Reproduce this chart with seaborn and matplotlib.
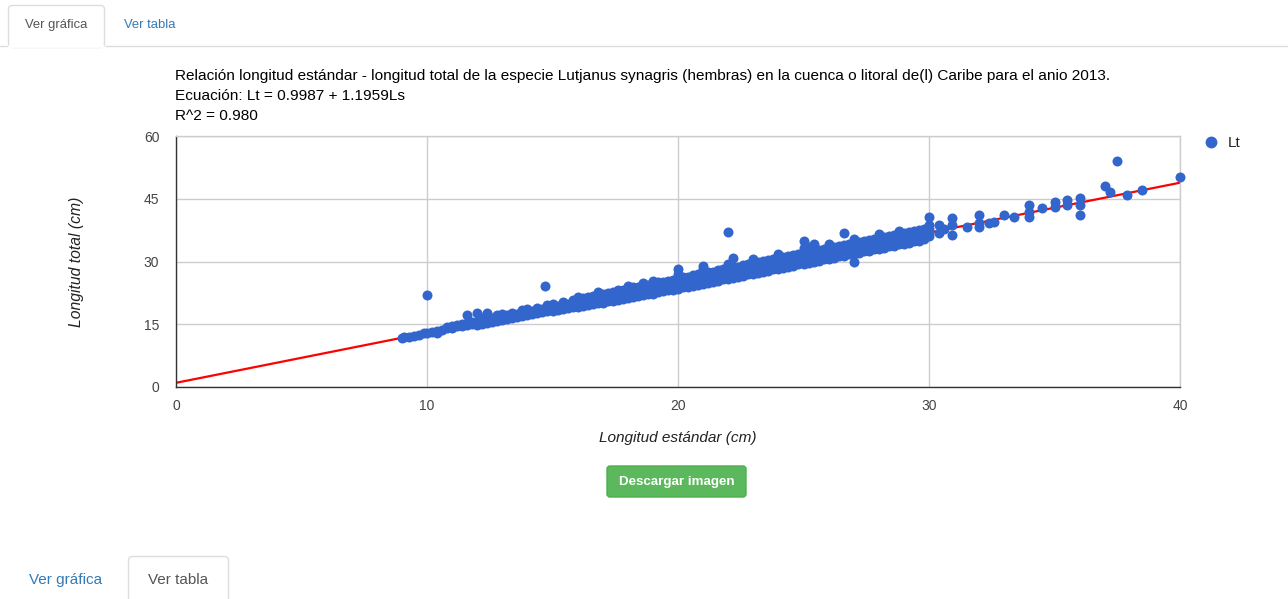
import matplotlib
matplotlib.use("Agg")
import matplotlib.pyplot as plt
from matplotlib.patches import FancyBboxPatch
from matplotlib.lines import Line2D
import pandas as pd
import seaborn as sns

# Standard length (cm) of each measured group and the total lengths (cm) found there
ls_cm = [
    9.0, 9.1, 9.3, 9.5, 9.7, 9.9, 10.0, 10.2, 10.4, 10.6, 10.8, 11.0, 11.2, 11.4,
    11.6, 11.8, 12.0, 12.2, 12.4, 12.6, 12.8, 13.0, 13.2, 13.4, 13.6, 13.8, 14.0,
    14.2, 14.4, 14.6, 14.7, 14.8, 15.0, 15.2, 15.4, 15.6, 15.8, 16.0, 16.2, 16.4,
    16.6, 16.8, 17.0, 17.2, 17.4, 17.6, 17.8, 18.0, 18.2, 18.4, 18.6, 18.8, 19.0,
    19.2, 19.4, 19.6, 19.8, 20.0, 20.2, 20.4, 20.6, 20.8, 21.0, 21.2, 21.4, 21.6,
    21.8, 22.0, 22.2, 22.4, 22.6, 22.8, 23.0, 23.2, 23.4, 23.6, 23.8, 24.0, 24.2,
    24.4, 24.6, 24.8, 25.0, 25.2, 25.4, 25.6, 25.8, 26.0, 26.2, 26.4, 26.6, 26.8,
    27.0, 27.2, 27.4, 27.6, 27.8, 28.0, 28.2, 28.4, 28.6, 28.8, 29.0, 29.2, 29.4,
    29.6, 29.8, 30.0, 30.4, 30.6, 30.9, 31.5, 32.0, 32.4, 32.6, 33.0, 33.4, 34.0,
    34.5, 35.0, 35.5, 36.0, 37.0, 37.2, 37.5, 37.9, 38.5, 40.0,
]
lt_cm = [
    [11.7], [11.9], [12.0], [12.3], [12.5], [12.8], [13.0, 22.0], [13.1],
    [13.0, 13.5], [13.7], [14.0, 14.4], [14.1, 14.6], [14.5, 14.9], [14.6, 15.1],
    [14.9, 15.4, 17.2], [15.0, 15.6], [14.9, 15.6, 17.8], [15.1, 15.9, 16.4],
    [15.4, 16.1, 17.6], [15.6, 16.4], [15.8, 16.6, 17.2], [16.0, 16.8, 17.5],
    [16.3, 17.1], [16.5, 17.3, 17.8], [16.7, 17.5], [17.0, 17.8, 18.3],
    [17.1, 18.0, 18.7], [17.4, 18.2], [17.6, 18.5, 19.0], [17.9, 18.7], [24.2],
    [18.1, 18.9, 19.5], [18.2, 19.1, 19.9], [18.5, 19.4], [18.7, 19.6, 20.2],
    [18.9, 19.9], [19.2, 20.1, 20.7], [19.1, 20.1, 21.0, 21.6], [19.4, 20.4, 21.2],
    [19.5, 20.6, 21.5], [19.8, 20.8, 21.7], [20.0, 21.1, 22.1, 22.6],
    [20.1, 21.3, 22.3], [20.5, 21.6, 22.5], [20.6, 21.8, 22.8], [20.9, 22.0, 23.1],
    [21.1, 22.3, 23.3], [21.2, 22.5, 23.5, 24.1], [21.6, 22.8, 23.8],
    [21.8, 23.0, 24.0], [22.0, 23.2, 24.3, 24.8], [22.2, 23.5, 24.5],
    [22.3, 23.7, 24.7, 25.4], [22.7, 24.0, 25.0], [22.9, 24.2, 25.2],
    [23.1, 24.4, 25.4], [23.3, 24.7, 25.6], [23.5, 24.9, 26.0, 27.0, 28.1],
    [23.8, 25.2, 26.2], [24.0, 25.4, 26.4], [24.2, 25.6, 26.7], [24.5, 25.9, 27.0],
    [24.6, 26.1, 27.2, 28.2, 29.0], [24.9, 26.4, 27.4], [25.2, 26.6, 27.6],
    [25.4, 26.8, 27.9], [25.7, 27.1, 28.1], [25.8, 27.3, 28.4, 29.3, 37.1],
    [26.1, 27.5, 28.6, 30.9], [26.4, 27.8, 28.8], [26.6, 28.0, 29.1],
    [26.9, 28.3, 29.3], [27.0, 28.5, 29.6, 30.5], [27.3, 28.7, 29.8],
    [27.6, 29.0, 30.1], [27.8, 29.2, 30.3], [28.1, 29.5, 30.5],
    [28.2, 29.7, 30.8, 31.8], [28.5, 29.9, 31.0], [28.8, 30.2, 31.3],
    [29.0, 30.4, 31.5], [29.3, 30.7, 31.7], [29.3, 30.9, 32.0, 33.2, 34.9],
    [29.7, 31.1, 32.2, 33.5], [30.0, 31.4, 32.5, 34.1], [30.2, 31.6, 32.7],
    [30.5, 31.9, 32.9], [30.5, 32.1, 33.2, 34.3], [30.9, 32.3, 33.4],
    [31.2, 32.6, 33.6], [31.4, 32.8, 33.9, 36.7], [31.7, 33.1, 34.1],
    [30.0, 31.8, 33.3, 34.4, 35.3], [32.1, 33.5, 34.6], [32.4, 33.8, 34.8],
    [32.6, 34.0, 35.1], [32.9, 34.2, 35.3], [33.0, 34.5, 35.6, 36.6],
    [33.3, 34.7, 35.8], [33.6, 35.0, 36.0], [33.8, 35.2, 36.3],
    [34.1, 35.4, 36.5, 37.3], [34.2, 35.7, 36.8], [34.5, 35.9, 37.0],
    [34.8, 36.2, 37.2], [35.0, 36.4, 37.5], [35.3, 36.6, 37.7],
    [36.1, 36.7, 37.7, 38.7, 40.7], [36.7, 38.7], [37.8], [36.3, 38.8, 40.4],
    [38.3], [38.3, 39.1, 41.1], [39.2], [39.5], [41.1], [40.6],
    [40.7, 41.9, 43.5], [42.8], [43.1, 44.3], [43.5, 44.7], [41.1, 43.5, 45.2],
    [48.0], [46.7], [54.0], [45.9], [47.1], [50.2],
]

# Fitted relation Lt = a + b * Ls
intercept = 0.9987
slope = 1.1959
r_squared = 0.980

x_ticks = [0, 10, 20, 30, 40]
y_ticks = [0, 15, 30, 45, 60]

title_lines = [
    "Relación longitud estándar - longitud total de la especie Lutjanus synagris "
    "(hembras) en la cuenca o litoral de(l) Caribe para el anio 2013.",
    f"Ecuación: Lt = {intercept:.4f} + {slope:.4f}Ls",
    f"R^2 = {r_squared:.3f}",
]

rows = [(x, y) for x, ys in zip(ls_cm, lt_cm) for y in ys]
df = pd.DataFrame(rows, columns=["Ls", "Lt"])
trend = pd.DataFrame({"Ls": [x_ticks[0], x_ticks[-1]]})
trend["Lt"] = intercept + slope * trend["Ls"]

sns.set_theme(style="white")
plt.rcParams["font.family"] = ["Liberation Sans", "DejaVu Sans"]

W, H = 1288, 599
fig = plt.figure(figsize=(W / 100, H / 100), dpi=100)
fig.patch.set_facecolor("white")

# page overlay in pixel coordinates
page = fig.add_axes([0, 0, 1, 1], zorder=0)
page.set_xlim(0, W)
page.set_ylim(H, 0)
page.axis("off")

BLUE_LINK = "#337ab7"
TAB_LINE = "#dddddd"

# top tab bar
page.plot([0, 8], [45.5, 45.5], color=TAB_LINE, lw=1)
page.plot([104, W], [45.5, 45.5], color=TAB_LINE, lw=1)
page.add_patch(FancyBboxPatch((8.5, 5.5), 96, 42, boxstyle="round,pad=0,rounding_size=4",
                              fc="white", ec=TAB_LINE, lw=1))
page.plot([9.5, 103.5], [46, 46], color="white", lw=2)
page.text(56, 25, "Ver gráfica", ha="center", va="center", fontsize=9.4, color="#555555")
page.text(150, 25, "Ver tabla", ha="center", va="center", fontsize=9.4, color=BLUE_LINK)

# bottom tab bar
page.add_patch(FancyBboxPatch((128.5, 556.5), 100, 60, boxstyle="round,pad=0,rounding_size=4",
                              fc="white", ec=TAB_LINE, lw=1))
page.text(66, 580, "Ver gráfica", ha="center", va="center", fontsize=11.0, color=BLUE_LINK)
page.text(178, 580, "Ver tabla", ha="center", va="center", fontsize=11.0, color="#555555")

# download button
page.add_patch(FancyBboxPatch((607, 466), 139, 31, boxstyle="round,pad=0,rounding_size=3",
                              fc="#5cb85c", ec="#4cae4c", lw=1))
page.text(676.5, 482, "Descargar imagen", ha="center", va="center", fontsize=9.6,
          color="white", fontweight="bold")

# chart title block
for i, line in enumerate(title_lines):
    page.text(175, 76 + 20 * i, line, ha="left", va="center", fontsize=11.1, color="#000000")

# plot area
left, right, top, bottom = 176, 1180, 136, 387
ax = fig.add_axes([left / W, 1 - bottom / H, (right - left) / W, (bottom - top) / H], zorder=2)
ax.set_facecolor("none")

sns.lineplot(data=trend, x="Ls", y="Lt", color="#ff0000", lw=1.6, ax=ax, zorder=2)
sns.scatterplot(data=df, x="Ls", y="Lt", color="#3366cc", s=52, linewidth=0,
                ax=ax, zorder=3, clip_on=False)

ax.set_xlim(x_ticks[0], x_ticks[-1])
ax.set_ylim(y_ticks[0], y_ticks[-1])
ax.set_xticks(x_ticks)
ax.set_yticks(y_ticks)
ax.grid(True, color="#cccccc", lw=1)
ax.set_axisbelow(True)
ax.tick_params(length=0, labelsize=10.0, colors="#444444", pad=9)
ax.tick_params(axis="y", pad=12)
for side in ["top", "right"]:
    ax.spines[side].set_color("#cccccc")
    ax.spines[side].set_linewidth(1)
for side in ["left", "bottom"]:
    ax.spines[side].set_color("#333333")
    ax.spines[side].set_linewidth(1)

ax.set_xlabel("Longitud estándar (cm)", fontsize=11.1, style="italic", color="#222222")
ax.set_ylabel("Longitud total (cm)", fontsize=11.3, style="italic", color="#222222")
ax.xaxis.set_label_coords(0.5, -(431 - bottom) / (bottom - top))
ax.yaxis.set_label_coords((84 - left) / (right - left), 0.5)

# legend
handle = Line2D([], [], marker="o", ls="none", color="#3366cc", markersize=7.5)
fig.legend([handle], ["Lt"], loc="center left", bbox_to_anchor=(1203 / W, 1 - 143 / H),
           frameon=False, fontsize=11.0, handletextpad=0.6, labelcolor="#222222",
           handlelength=1.0, borderaxespad=0, borderpad=0)

fig.savefig("out.png", dpi=100)
